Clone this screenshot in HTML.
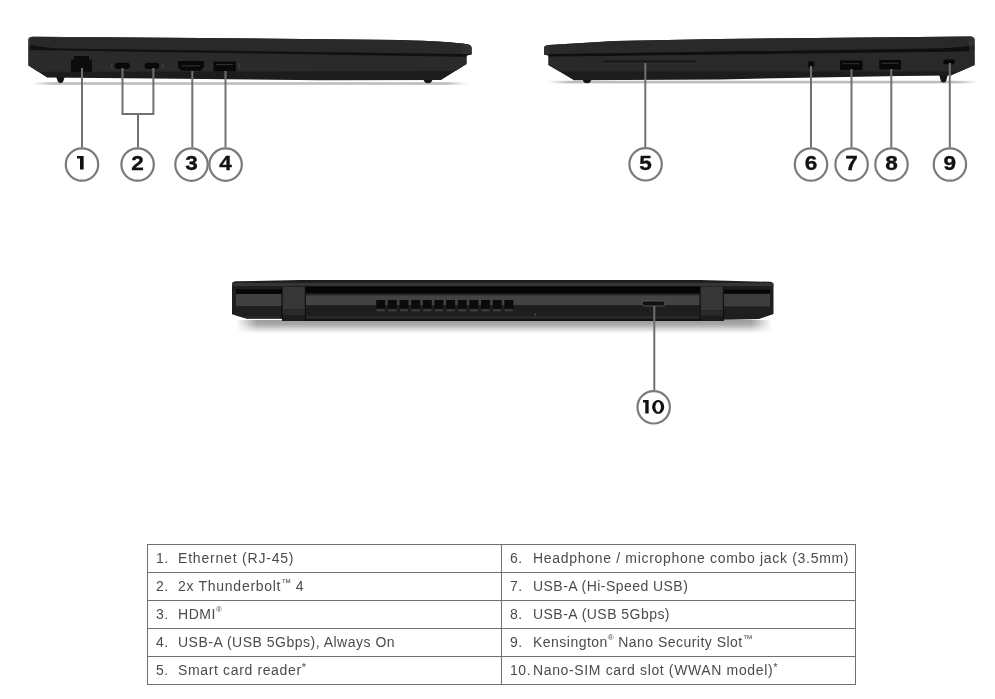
<!DOCTYPE html>
<html><head><meta charset="utf-8">
<style>
html,body{margin:0;padding:0;background:#fff;}
body{width:995px;height:699px;position:relative;overflow:hidden;font-family:"Liberation Sans",sans-serif;}
svg.d{position:absolute;left:0;top:0;}
table.t{position:absolute;left:147px;top:544px;border-collapse:collapse;will-change:transform;}
table.t td{border:1px solid #6f6f6f;height:25px;padding:0 0 2px 0;color:#4b4b4b;font-size:14px;letter-spacing:0.55px;white-space:nowrap;vertical-align:middle;}
sup{font-size:8px;vertical-align:top;position:relative;top:-1px;letter-spacing:0}
sup.tm{font-size:10px;top:-1px}
sup.st{font-size:11px;top:-1px}
table.t td.l{width:353px;}
table.t td.r{width:353px;}
.n{display:inline-block;}
.l .n{width:22px;padding-left:8px;}
.r .n{width:23px;padding-left:8px;}
</style></head>
<body>
<svg class="d" width="995" height="699" viewBox="0 0 995 699">
<defs>
  <linearGradient id="shL" x1="0" y1="0" x2="1" y2="0">
    <stop offset="0" stop-color="#fff"/><stop offset="0.05" stop-color="#bdbdbd"/><stop offset="0.95" stop-color="#bdbdbd"/><stop offset="1" stop-color="#fff"/>
  </linearGradient>
  <linearGradient id="shR" x1="0" y1="0" x2="0" y2="1">
    <stop offset="0" stop-color="#888"/><stop offset="1" stop-color="#fff"/>
  </linearGradient>
</defs>

<!-- ============ LEFT LAPTOP ============ -->
<clipPath id="cL"><path d="M28.5,39.5 Q28.8,36.8 33,36.7 L200,38 L400,40 Q450,41.5 467,44.2 Q471.5,45 471.5,48 L471.5,54.5 L466.5,55.5 L466.5,64 L441,80 L320,80.2 L47,77.5 L28.5,65.5 Z"/></clipPath>
<rect x="32" y="82.2" width="436" height="2.6" fill="url(#shL)"/>
<path d="M56,76 L65,76 L63,82 Q60.5,84 58,82 Z" fill="#151515"/>
<path d="M423,79 L433,79 L431,82.5 Q428,84 425,82.5 Z" fill="#151515"/>
<g clip-path="url(#cL)">
<rect x="20" y="30" width="460" height="60" fill="#1c1c1c"/>
<path d="M20,30 H480 V54.4 L55,48.6 Q42,46.8 20,43.5 Z" fill="#292929"/>
<path d="M20,43.5 Q42,46.8 55,48.6 L480,54.4 V57 L55,51.5 Q40,50.5 20,50 Z" fill="#111"/>
<rect x="27" y="36" width="3.5" height="30" fill="#3c3c3c" opacity="0.5"/>
<path d="M20,50 L480,57 V71 L20,71.8 Z" fill="#2a2a2a"/>
<rect x="55" y="36.6" width="50" height="1" fill="#4a4a4a" opacity="0.7"/>
<rect x="462" y="40" width="10" height="14" fill="#303030"/>
</g>
<path d="M74,56 L89,56 L89,59.5 L92,59.5 L92,72 L71,72 L71,59.5 L74,59.5 Z" fill="#0c0c0c"/>
<rect x="114.6" y="62.7" width="15.4" height="6.2" rx="3.1" fill="#080808"/>
<rect x="144.5" y="62.7" width="14.8" height="6.2" rx="3.1" fill="#080808"/>
<path d="M178,61 L203.8,61 L203.8,67 L200.5,70.7 L181.3,70.7 L178,67 Z" fill="#080808"/>
<rect x="213.5" y="61.6" width="22.3" height="9.7" fill="#080808"/>
<g fill="#3a3a3a">
<rect x="182" y="65.4" width="18" height="0.9"/>
<rect x="216" y="64.2" width="17" height="0.9"/>
</g>
<g fill="#4a4a4a" opacity="0.6">
<rect x="238.5" y="63" width="1.3" height="6"/>
<rect x="111" y="63" width="1.3" height="5.5"/>
<rect x="162" y="63" width="1.3" height="5.5"/>
<rect x="836" y="61.5" width="1.3" height="7"/>
<rect x="874.5" y="61.5" width="1.3" height="7"/>
</g>

<!-- ============ RIGHT LAPTOP ============ -->
<clipPath id="cR"><path d="M544,48 Q544,45.5 549,45 L615,41 L720,39 L970,36.5 Q974.5,36.5 974.5,40 L974.5,65 L951,75.5 L900,76 L720,79.4 L574,80.2 L548.5,65 L548.5,55.5 L544,54.5 Z"/></clipPath>
<rect x="548" y="80.8" width="430" height="2.6" fill="url(#shL)"/>
<path d="M582,78.5 L592,78.5 L590,82.5 Q587,84 584,82.5 Z" fill="#151515"/>
<path d="M939,74 L948,74 L946,81.5 Q943.5,83.5 941,81.5 Z" fill="#151515"/>
<g clip-path="url(#cR)">
<rect x="540" y="30" width="440" height="60" fill="#1c1c1c"/>
<path d="M540,30 H980 V44.5 Q962,47.2 940,48.5 L540,54.4 Z" fill="#292929"/>
<path d="M540,54.4 L940,48.5 Q962,47.2 980,44.5 V50.5 Q962,51.2 940,51.9 L540,56.8 Z" fill="#0f0f0f"/>
<rect x="969" y="36" width="6" height="30" fill="#3c3c3c" opacity="0.5"/>
<path d="M540,56.8 L980,51.4 V71.5 L540,71.5 Z" fill="#292929"/>
<rect x="543" y="40" width="6" height="14.5" fill="#303030"/>
</g>
<rect x="603" y="60.6" width="93" height="2" fill="#161616"/><rect x="603" y="62.6" width="93" height="0.8" fill="#333"/>
<circle cx="811" cy="64.5" r="3.4" fill="#0a0a0a"/>
<rect x="840" y="60.5" width="22.4" height="9.7" fill="#080808"/>
<rect x="879.3" y="60" width="21.7" height="9.5" fill="#080808"/>
<g fill="#3a3a3a"><rect x="842.5" y="63.3" width="17" height="0.9"/><rect x="881.5" y="62.8" width="17" height="0.9"/></g>
<rect x="943.5" y="59.6" width="11" height="4.6" rx="0.6" fill="#080808"/>

<!-- ============ REAR LAPTOP ============ -->
<linearGradient id="shB" x1="0" y1="0" x2="0" y2="1">
 <stop offset="0" stop-color="#9c9c9c"/><stop offset="0.3" stop-color="#a8a8a8"/><stop offset="0.6" stop-color="#d2d2d2"/><stop offset="0.85" stop-color="#f2f2f2"/><stop offset="1" stop-color="#fff"/>
</linearGradient>
<linearGradient id="shBx" x1="0" y1="0" x2="1" y2="0">
 <stop offset="0" stop-color="#fff" stop-opacity="1"/><stop offset="0.04" stop-color="#fff" stop-opacity="0"/><stop offset="0.96" stop-color="#fff" stop-opacity="0"/><stop offset="1" stop-color="#fff" stop-opacity="1"/>
</linearGradient>
<rect x="236" y="320" width="536" height="14" fill="url(#shB)"/>
<rect x="236" y="320" width="536" height="14" fill="url(#shBx)"/>
<clipPath id="cB"><path d="M232,283.5 Q232.5,281.5 236,281.3 L300,280 L700,280 L770,281.8 Q773.5,282.2 773.5,284.5 L773.5,314 L759,319 L723.5,319.5 L723.5,321 L282,321 L282,318.8 L247,318.8 L232,314.3 Z"/></clipPath>
<g clip-path="url(#cB)">
<rect x="230" y="278" width="550" height="45" fill="#1e1e1e"/>
<rect x="230" y="282.8" width="550" height="3.2" fill="#343434"/>
<!-- left section -->
<rect x="236" y="289.2" width="46" height="4.7" fill="#060606"/>
<rect x="236" y="294" width="46" height="12" fill="#404040"/>
<rect x="236" y="306" width="46" height="10" fill="#1f1f1f"/>
<rect x="236" y="316" width="46" height="2.5" fill="#262626"/>
<!-- middle -->
<rect x="306" y="286.5" width="394" height="7" fill="#040404"/>
<rect x="306" y="293.5" width="394" height="1.8" fill="#222"/>
<rect x="306" y="295.3" width="394" height="10" fill="#434343"/>
<rect x="306" y="305.3" width="394" height="10.7" fill="#1e1e1e"/>
<rect x="306" y="316" width="394" height="3" fill="#272727"/>
<rect x="230" y="319" width="550" height="3" fill="#121212"/>
<!-- right section -->
<rect x="724" y="289.6" width="46" height="4" fill="#060606"/>
<rect x="724" y="294" width="46" height="12.7" fill="#3c3c3c"/>
<rect x="724" y="306.7" width="46" height="7.5" fill="#1f1f1f"/>
<!-- hinges -->
<rect x="281.4" y="286.7" width="24.4" height="34.5" fill="#0e0e0e"/>
<rect x="282.6" y="286.7" width="22.2" height="23" fill="#363636"/>
<rect x="282.6" y="309.7" width="22.2" height="6" fill="#2a2a2a"/>
<rect x="282.6" y="315.7" width="22.2" height="5.3" fill="#1c1c1c"/>
<rect x="699.5" y="286.4" width="24.4" height="34.8" fill="#0e0e0e"/>
<rect x="700.7" y="286.4" width="22.2" height="24" fill="#363636"/>
<rect x="700.7" y="310.4" width="22.2" height="5.5" fill="#2a2a2a"/>
<rect x="700.7" y="315.9" width="22.2" height="5.3" fill="#1c1c1c"/>
</g>
<g fill="#0b0b0b"><rect x="376.20" y="300" width="9" height="8.6"/><rect x="387.85" y="300" width="9" height="8.6"/><rect x="399.50" y="300" width="9" height="8.6"/><rect x="411.15" y="300" width="9" height="8.6"/><rect x="422.80" y="300" width="9" height="8.6"/><rect x="434.45" y="300" width="9" height="8.6"/><rect x="446.10" y="300" width="9" height="8.6"/><rect x="457.75" y="300" width="9" height="8.6"/><rect x="469.40" y="300" width="9" height="8.6"/><rect x="481.05" y="300" width="9" height="8.6"/><rect x="492.70" y="300" width="9" height="8.6"/><rect x="504.35" y="300" width="9" height="8.6"/></g>
<g fill="#3a3a3a"><rect x="376.70" y="309" width="8" height="2.4"/><rect x="388.35" y="309" width="8" height="2.4"/><rect x="400.00" y="309" width="8" height="2.4"/><rect x="411.65" y="309" width="8" height="2.4"/><rect x="423.30" y="309" width="8" height="2.4"/><rect x="434.95" y="309" width="8" height="2.4"/><rect x="446.60" y="309" width="8" height="2.4"/><rect x="458.25" y="309" width="8" height="2.4"/><rect x="469.90" y="309" width="8" height="2.4"/><rect x="481.55" y="309" width="8" height="2.4"/><rect x="493.20" y="309" width="8" height="2.4"/><rect x="504.85" y="309" width="8" height="2.4"/></g>
<circle cx="535.5" cy="314.5" r="0.9" fill="#555"/>
<rect x="642" y="301" width="23" height="5" rx="2.5" fill="#111" stroke="#5a5a5a" stroke-width="0.9"/>

<!-- ============ CALLOUTS ============ -->
<g stroke="#707070" stroke-width="2" fill="none">
<path d="M82,68 V147.5"/>
<path d="M122.5,68 V114 H153.4 V68 M138,114 V147.5"/>
<path d="M192.3,71 V147.5"/>
<path d="M225.5,71 V147.5"/>
<path d="M645.3,63 V147.5"/>
<path d="M811,66 V147.5"/>
<path d="M851.5,69 V147.5"/>
<path d="M891.3,69 V147.5"/>
<path d="M949.8,63 V147.5"/>
<path d="M654.3,306 V390"/>
</g>
<g stroke="#7a7a7a" stroke-width="2.2" fill="#fff">
<circle cx="82" cy="164.5" r="16.2"/>
<circle cx="137.6" cy="164.5" r="16.2"/>
<circle cx="191.5" cy="164.6" r="16.2"/>
<circle cx="225.6" cy="164.6" r="16.2"/>
<circle cx="645.6" cy="164.3" r="16.2"/>
<circle cx="811" cy="164.5" r="16.2"/>
<circle cx="851.6" cy="164.5" r="16.2"/>
<circle cx="891.5" cy="164.5" r="16.2"/>
<circle cx="949.9" cy="164.5" r="16.2"/>
<circle cx="653.7" cy="407.3" r="16.2"/>
</g>
<g font-family="Liberation Sans" font-weight="bold" font-size="20" fill="#111" stroke="#111" stroke-width="0.35" text-anchor="middle" opacity="0.999">
<text transform="translate(137.6,170) scale(1.13,1)">2</text>
<text transform="translate(191.5,170) scale(1.13,1)">3</text>
<text transform="translate(225.6,170) scale(1.13,1)">4</text>
<text transform="translate(645.6,170) scale(1.13,1)">5</text>
<text transform="translate(811,170) scale(1.13,1)">6</text>
<text transform="translate(851.6,170) scale(1.13,1)">7</text>
<text transform="translate(891.5,170) scale(1.13,1)">8</text>
<text transform="translate(949.9,170) scale(1.13,1)">9</text>
</g>
<g fill="#111">
<path d="M77,156.1 H83.65 V169.6 H80 V158.6 H77 Z"/>
<path d="M643,400.1 H648.65 V413.6 H645.3 V402.6 H643 Z"/>
<path fill-rule="evenodd" d="M658.15,400 a6.05,6.9 0 1,0 0.01,0 Z M658.15,402 a2.75,4.9 0 1,1 -0.01,0 Z"/>
</g>
</svg>

<table class="t">
<tr><td class="l"><span class="n">1.</span><span style="letter-spacing:0.8px">Ethernet (RJ-45)</span></td><td class="r"><span class="n">6.</span><span style="letter-spacing:0.69px">Headphone / microphone combo jack (3.5mm)</span></td></tr>
<tr><td class="l"><span class="n">2.</span><span style="letter-spacing:0.72px">2x Thunderbolt<sup class="tm">™</sup> 4</span></td><td class="r"><span class="n">7.</span><span style="letter-spacing:0.45px">USB-A (Hi-Speed USB)</span></td></tr>
<tr><td class="l"><span class="n">3.</span><span style="letter-spacing:0.55px">HDMI<sup>®</sup></span></td><td class="r"><span class="n">8.</span><span style="letter-spacing:0.46px">USB-A (USB 5Gbps)</span></td></tr>
<tr><td class="l"><span class="n">4.</span><span style="letter-spacing:0.5px">USB-A (USB 5Gbps), Always On</span></td><td class="r"><span class="n">9.</span><span style="letter-spacing:0.48px">Kensington<sup>®</sup> Nano Security Slot<sup class="tm">™</sup></span></td></tr>
<tr><td class="l"><span class="n">5.</span><span style="letter-spacing:0.64px">Smart card reader<sup class="st">*</sup></span></td><td class="r"><span class="n">10.</span><span style="letter-spacing:0.64px">Nano-SIM card slot (WWAN model)<sup class="st">*</sup></span></td></tr>
</table>
</body></html>
